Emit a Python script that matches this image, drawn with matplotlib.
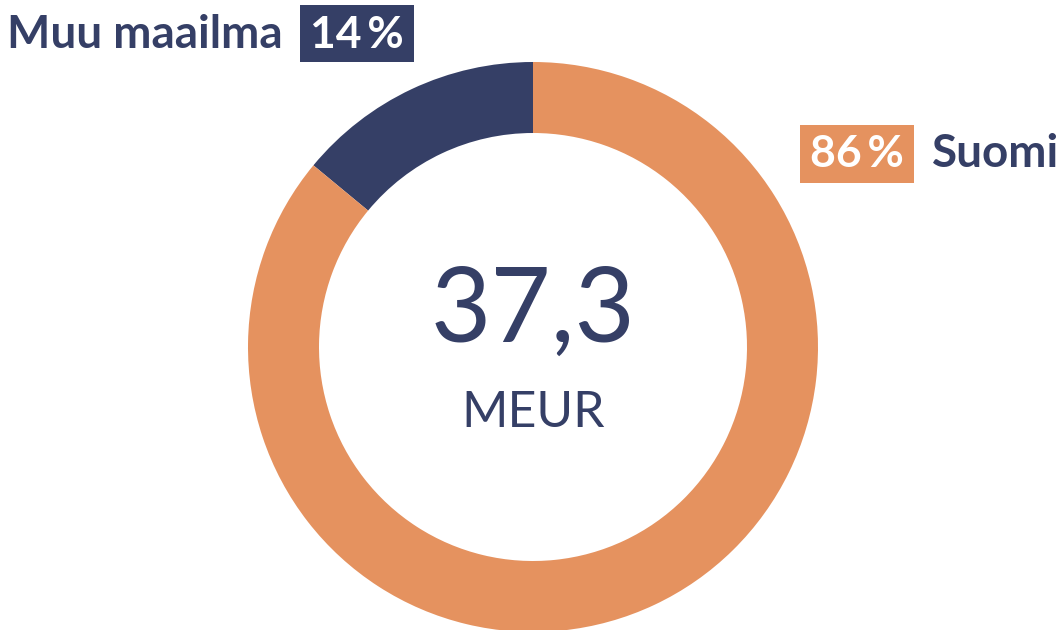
import matplotlib.pyplot as plt
from matplotlib.patches import Rectangle

# data
labels = ["Muu maailma", "Suomi"]
shares = [14, 86]
colors = ["#353F66", "#E5925F"]
total = "37,3"
unit = "MEUR"

plt.rcParams['font.family'] = ['Lato', 'DejaVu Sans']
navy = colors[0]

fig = plt.figure(figsize=(10.61, 6.30), dpi=100)
fig.patch.set_facecolor("white")
ax = fig.add_axes([0, 0, 1, 1])

# donut, first slice starts at 12 o'clock going counterclockwise
ax.pie(shares, colors=colors, startangle=90, counterclock=True,
       center=(533, 283), radius=285,
       wedgeprops=dict(width=71, edgecolor="none"))
ax.set_xlim(0, 1061)
ax.set_ylim(0, 630)
ax.set_aspect("equal")
ax.axis("off")

# centre text
ax.text(533, 288, total, ha="center", va="baseline", fontsize=75, color=navy)
ax.text(533, 203, unit, ha="center", va="baseline", fontsize=36, color=navy)

# Muu maailma label (text left, box right)
ax.text(283, 582, labels[0], ha="right", va="baseline", fontsize=33,
        fontweight="bold", color=navy)
ax.add_patch(Rectangle((300, 568), 114, 57, fc=colors[0], ec="none"))
ax.text(357, 582, f"{shares[0]}\u2009%", ha="center", va="baseline", fontsize=32,
        fontweight="bold", color="white")

# Suomi label (box left, text right)
ax.add_patch(Rectangle((800, 447), 114, 58, fc=colors[1], ec="none"))
ax.text(857, 463, f"{shares[1]}\u2009%", ha="center", va="baseline", fontsize=32,
        fontweight="bold", color="white")
ax.text(932, 463, labels[1], ha="left", va="baseline", fontsize=33,
        fontweight="bold", color=navy)

fig.savefig("out.png", dpi=100, facecolor=fig.get_facecolor())
